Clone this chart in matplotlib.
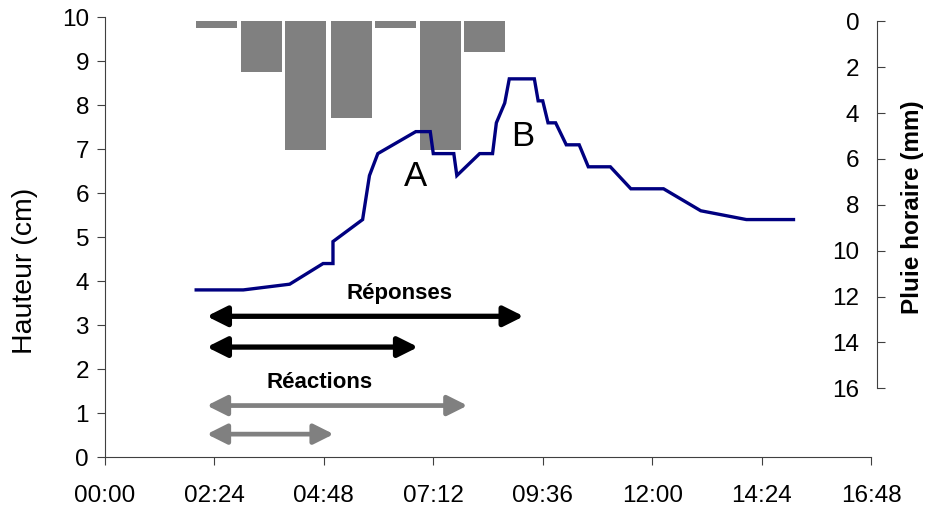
import matplotlib
matplotlib.use("Agg")
import matplotlib.pyplot as plt

plt.rcParams["font.family"] = ["Liberation Sans", "DejaVu Sans"]

# water level (time in minutes since 00:00, height in cm)
t_level = [120, 182, 243, 287, 300, 300, 339, 348, 359, 409, 428, 432, 459, 463,
           493, 510, 515, 526, 532, 565, 570, 576, 583, 593, 607, 624, 636, 665,
           692, 735, 784, 844, 906]
h_level = [3.8, 3.8, 3.93, 4.4, 4.4, 4.9, 5.4, 6.4, 6.9, 7.4, 7.4, 6.9, 6.9, 6.4,
           6.9, 6.9, 7.6, 8.05, 8.6, 8.6, 8.1, 8.1, 7.6, 7.6, 7.1, 7.1, 6.6, 6.6,
           6.1, 6.1, 5.6, 5.4, 5.4]

# hourly rainfall (bar centre in minutes, mm)
t_rain = [147, 206, 264, 324, 382, 441, 500]
rain = [0.3, 2.2, 5.6, 4.2, 0.3, 5.6, 1.35]

x_ticks = [0, 144, 288, 432, 576, 720, 864, 1008]
rain_ticks = [0, 2, 4, 6, 8, 10, 12, 14, 16]

# response / reaction spans: (start, end, height)
reponses = [(134, 551, 3.2), (134, 412, 2.5)]
reactions = [(134, 477, 1.17), (134, 301, 0.52)]

NAVY = "#000080"
GREY = "#808080"

fig = plt.figure(figsize=(9.31, 5.12), dpi=100)
ax = fig.add_axes([105 / 931, 1 - 457 / 512, 766 / 931, 439.7 / 512])
ax2 = ax.twinx()
ax.set_zorder(ax2.get_zorder() + 1)
ax.patch.set_visible(False)

# rain bars on the inverted secondary axis
ax2.bar(t_rain, rain, width=54, bottom=0, color=GREY, edgecolor="none")
ax2.set_ylim(19.0, -0.18)
ax2.set_yticks(rain_ticks)
for s in ["top", "left", "bottom"]:
    ax2.spines[s].set_visible(False)
ax2.spines["right"].set_position(("outward", 4))
ax2.spines["right"].set_bounds(0, 16)
ax2.spines["right"].set_color("#404040")
ax2.tick_params(axis="y", direction="out", length=6, width=0.8, colors="#404040",
                labelcolor="black", labelsize=17.5, pad=-18.5)
for tk in ax2.yaxis.get_major_ticks():
    tk.label2.set_horizontalalignment("right")

# water level
ax.plot(t_level, h_level, color=NAVY, lw=2.4, solid_joinstyle="miter")
ax.set_xlim(0, 1008)
ax.set_ylim(0, 10)
ax.set_xticks(x_ticks)
ax.set_xticklabels([f"{v // 60:02d}:{v % 60:02d}" for v in x_ticks])
ax.set_yticks(range(11))
for s in ["top", "right"]:
    ax.spines[s].set_visible(False)
for s in ["left", "bottom"]:
    ax.spines[s].set_color("#404040")
ax.tick_params(axis="both", direction="out", length=6, width=0.8, colors="#404040",
               labelcolor="black", labelsize=17.5)
ax.tick_params(axis="x", pad=14)
ax.tick_params(axis="y", pad=5.5)

ax.text(408, 6.37, "A", fontsize=25, ha="center", va="center")
ax.text(550, 7.3, "B", fontsize=25, ha="center", va="center")

for (x0, x1, y), col, lw in [(r, "black", 3.8) for r in reponses] + \
        [(r, GREY, 3.4) for r in reactions]:
    ax.annotate("", xy=(x1, y), xytext=(x0, y),
                arrowprops=dict(arrowstyle="<|-|>,head_length=0.6,head_width=0.3",
                                mutation_scale=20, color=col, lw=lw,
                                shrinkA=0, shrinkB=0))

ax.text(387, 3.72, "Réponses", fontsize=16, fontweight="bold", ha="center", va="center")
ax.text(283, 1.69, "Réactions", fontsize=16, fontweight="bold", ha="center", va="center")

fig.text(25 / 931, 1 - 271 / 512, "Hauteur (cm)", rotation=90, fontsize=20.5,
         ha="center", va="center")
fig.text(913 / 931, 1 - 207 / 512, "Pluie horaire (mm)", rotation=90, fontsize=17.5,
         fontweight="bold", ha="center", va="center")

fig.savefig("out.png", dpi=100)
